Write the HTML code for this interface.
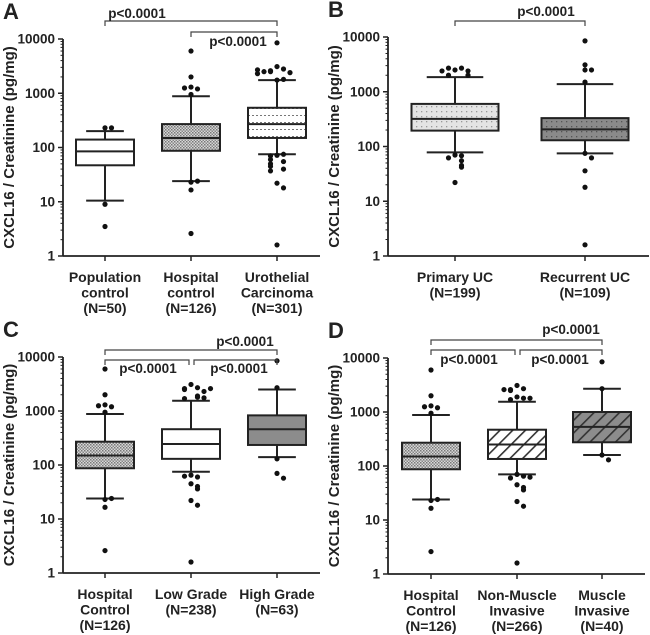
<!DOCTYPE html>
<html><head><meta charset="utf-8"><style>
html,body{margin:0;padding:0;background:#fff;width:650px;height:635px;overflow:hidden}
svg text{font-family:"Liberation Sans",Arial,sans-serif;font-weight:bold;fill:#222}
</style></head><body>
<svg id="fig" width="650" height="635" viewBox="0 0 650 635" xmlns="http://www.w3.org/2000/svg">
<defs>
<pattern id="check" width="3" height="3" patternUnits="userSpaceOnUse"><rect width="3" height="3" fill="#d8d8d8"/><rect width="1.5" height="1.5" fill="#777"/><rect x="1.5" y="1.5" width="1.5" height="1.5" fill="#888"/></pattern>
<pattern id="hdots" width="4" height="7" patternUnits="userSpaceOnUse"><rect width="4" height="7" fill="#fff"/><rect y="3" width="2" height="1" fill="#777"/></pattern>
<pattern id="dotsLight" width="5" height="5" patternUnits="userSpaceOnUse"><rect width="5" height="5" fill="#e4e4e4"/><rect x="1" y="1" width="1.3" height="1.3" fill="#999"/></pattern>
<pattern id="dotsDark" width="5" height="5" patternUnits="userSpaceOnUse"><rect width="5" height="5" fill="#8a8a8a"/><rect x="1" y="1" width="1.3" height="1.3" fill="#555"/></pattern>
<pattern id="hatch" width="9" height="9" patternUnits="userSpaceOnUse" patternTransform="rotate(45)"><rect width="9" height="9" fill="#fff"/><rect width="1.6" height="9" fill="#333"/></pattern>
<pattern id="hatchGray" width="9" height="9" patternUnits="userSpaceOnUse" patternTransform="rotate(45)"><rect width="9" height="9" fill="#8c8c8c"/><rect width="1.6" height="9" fill="#333"/></pattern>
</defs>
</svg>
<script>
// ---- data ----
const catsA = [["Population","control","(N=50)"],["Hospital","control","(N=126)"],["Urothelial","Carcinoma","(N=301)"]];
const statsA = [[10.5,47,85,140,200],[24,87,150,270,880],[75,150,270,540,1750]];
const outA = [[230,230,9,3.5],[6000,2000,1300,1200,1250,950,23,24,16.5,2.6],[8500,3100,2800,2600,2500,2400,2500,2700,2300,1750,1800,72,75,70,60,55,50,45,40,37,22,18,1.6]];
const catsB = [["Primary UC","(N=199)"],["Recurrent UC","(N=109)"]];
const statsB = [[78,195,320,600,1850],[75,130,205,330,1380]];
const outB = [[2500,2700,2700,2400,2400,2000,2000,70,68,62,55,45,42,22],[8500,3100,2500,2500,1500,75,62,36,18,1.6]];
const catsC = [["Hospital","Control","(N=126)"],["Low Grade","(N=238)"],["High Grade","(N=63)"]];
const statsC = [[24,87,150,270,880],[75,130,245,460,1550],[140,235,460,830,2500]];
const outC = [outA[1],[3100,2700,2600,2500,2300,2600,1900,1800,1700,1750,65,60,62,45,40,36,22,18,1.6],[8500,2700,130,70,57]];
const catsD = [["Hospital","Control","(N=126)"],["Non-Muscle","Invasive","(N=266)"],["Muscle","Invasive","(N=40)"]];
const statsD = [[24,87,150,270,880],[70,135,250,470,1550],[160,275,530,1000,2700]];
const outD = [outA[1],[3100,2700,2600,2500,2600,1900,1800,1700,1800,70,65,60,62,45,40,36,22,18,1.6],[8500,2700,160,130]];
const yTicks = [1,10,100,1000,10000];

const NS="http://www.w3.org/2000/svg";
const svg=document.getElementById('fig');
function mk(tag,attrs,parent){const e=document.createElementNS(NS,tag);for(const k in attrs)e.setAttribute(k,attrs[k]);(parent||svg).appendChild(e);return e;}

function panel(P){
  const g=mk('g',{});
  
  
  const y=v=>P.yBot-(Math.log10(v))*(P.yBot-P.yTop)/4;
  const x=i=>P.cx[i];
  const L=mk('text',{x:P.ax-60,y:P.yTop-20,'font-size':22},g);L.textContent=P.id;
  
  
  const ya=mk('line',{x1:P.ax,y1:P.yTop,x2:P.ax,y2:P.yBot,stroke:'#222','stroke-width':1.8},g);
  
  
  const xa=mk('line',{x1:P.ax,y1:P.yBot,x2:P.xEnd,y2:P.yBot,stroke:'#222','stroke-width':1.8},g);
  
  
  yTicks.forEach((t,k)=>{
    mk('line',{x1:P.ax-5,y1:y(t),x2:P.ax,y2:y(t),stroke:'#222','stroke-width':1.5},g);
    const tx=mk('text',{x:P.ax-8,y:y(t)+4.5,'font-size':13.5,'text-anchor':'end'},g);tx.textContent=t;
    
    
    if(k<4)for(let m=2;m<10;m++)mk('line',{x1:P.ax-2.5,y1:y(t*m),x2:P.ax,y2:y(t*m),stroke:'#222','stroke-width':1},g);
  });
  const yt=mk('text',{x:0,y:0,'font-size':15,'text-anchor':'middle',transform:`translate(${P.ax-49},${(P.yTop+P.yBot)/2}) rotate(-90)`},g);
  yt.textContent='CXCL16 / Creatinine (pg/mg)';
  
  
  P.stats.forEach((s,i)=>{
    const cx=x(i),w=P.bw,cw=w*0.65;
    const bg=mk('g',{},g);
    
    
    mk('line',{x1:cx,y1:P.yBot,x2:cx,y2:P.yBot+5,stroke:'#222','stroke-width':1.5},g);
    mk('line',{x1:cx,y1:y(s[0]),x2:cx,y2:y(s[4]),stroke:'#222','stroke-width':2},bg);
    mk('line',{x1:cx-cw/2,y1:y(s[0]),x2:cx+cw/2,y2:y(s[0]),stroke:'#222','stroke-width':2},bg);
    mk('line',{x1:cx-cw/2,y1:y(s[4]),x2:cx+cw/2,y2:y(s[4]),stroke:'#222','stroke-width':2},bg);
    mk('rect',{x:cx-w/2,y:y(s[3]),width:w,height:y(s[1])-y(s[3]),fill:P.fills[i],stroke:'#222','stroke-width':2},bg);
    mk('line',{x1:cx-w/2,y1:y(s[2]),x2:cx+w/2,y2:y(s[2]),stroke:'#222','stroke-width':2},bg);
    const placed=[];
    P.out[i].forEach(v=>{
      const yy=y(v);let n=placed.filter(p=>Math.abs(p-yy)<5).length;placed.push(yy);
      const off=n===0?0:(n%2?1:-1)*Math.ceil(n/2)*6.5;
      const c=mk('circle',{cx:cx+off,cy:yy,r:2.6,fill:'#111'},bg);
      
      
    });
    P.cats[i].forEach((ln,j)=>{
      const t=mk('text',{x:cx,y:P.yBot+26+j*15.5,'font-size':14,'text-anchor':'middle'},g);t.textContent=ln;
      
      
    });
  });
  P.brackets.forEach(b=>{
    const bx1=x(b[0])+(b[3]||0),bx2=x(b[1])+(b[4]||0);
    const br=mk('path',{d:`M${bx1},${b[2]+5}V${b[2]}H${bx2}V${b[2]+5}`,fill:'none',stroke:'#444','stroke-width':1.2},g);
    
    
    const t=mk('text',{x:b[5],y:b[6],'font-size':13.5,'text-anchor':'middle'},g);t.textContent='p<0.0001';
    
    
  });
}
panel({id:'A',ax:63,yTop:39,yBot:256,xEnd:320,cx:[105,191,277],bw:58,cats:catsA,stats:statsA,out:outA,
  fills:['#fff','url(#check)','url(#hdots)'],brackets:[[0,2,21,0,0,137,18],[1,2,32,0,0,238,46]]});
panel({id:'B',ax:388,yTop:37,yBot:256,xEnd:649,cx:[455,585],bw:87,cats:catsB,stats:statsB,out:outB,
  fills:['url(#dotsLight)','url(#dotsDark)'],brackets:[[0,1,21,0,0,546,16]]});
panel({id:'C',ax:63,yTop:357,yBot:573,xEnd:320,cx:[105,191,277],bw:58,cats:catsC,stats:statsC,out:outC,
  fills:['url(#check)','#fff','#8c8c8c'],brackets:[[0,2,350,0,0,245,346],[0,1,360,0,-2,148,373],[1,2,360,3,0,239,373]]});
panel({id:'D',ax:388,yTop:358,yBot:574,xEnd:645,cx:[431,517,602],bw:58,cats:catsD,stats:statsD,out:outD,
  fills:['url(#check)','url(#hatch)','url(#hatchGray)'],brackets:[[0,2,340,0,0,571,334],[0,1,350,0,-2,469,364],[1,2,350,3,0,560,364]]});
</script>
</body></html>
